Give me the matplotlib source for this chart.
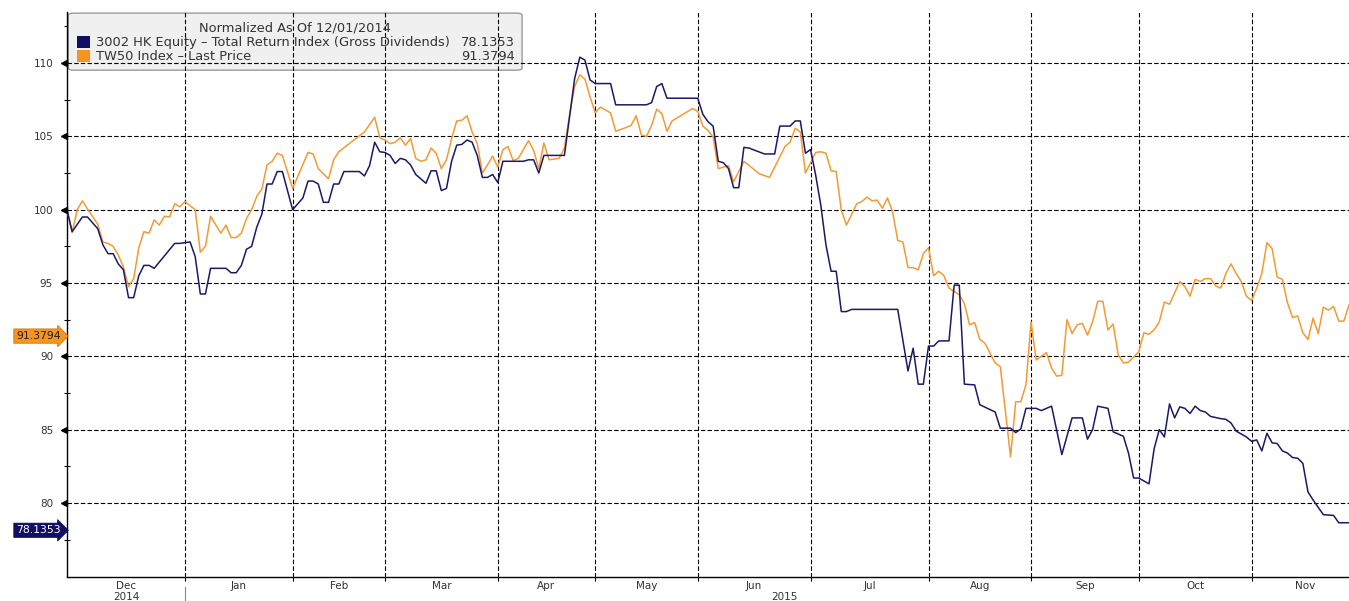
import matplotlib
matplotlib.use("Agg")
import matplotlib.pyplot as plt
from matplotlib.patches import FancyBboxPatch, Rectangle
from matplotlib.transforms import blended_transform_factory

# ---- data: trading-day index (0 = 01 Dec 2014) and value normalised to 100 ----
hk_days = [0, 1, 3, 4, 5, 6, 7, 8, 9, 10, 11, 12, 13, 14, 15, 16, 17, 21, 22, 24,
           25, 26, 27, 28, 31, 32, 33, 34, 35, 36, 37, 38, 39, 40, 41, 42, 44, 46, 47, 48,
           49, 50, 51, 52, 53, 54, 57, 58, 59, 60, 61, 62, 63, 64, 65, 66, 67, 68, 70, 71,
           72, 73, 74, 75, 76, 77, 78, 79, 80, 81, 82, 83, 84, 85, 89, 90, 91, 92, 93, 97,
           98, 99, 100, 101, 102, 103, 106, 107, 113, 114, 115, 116, 117, 123, 124, 125, 126, 127, 128, 129,
           130, 131, 132, 133, 136, 138, 139, 141, 142, 143, 144, 145, 146, 147, 148, 149, 150, 151, 152, 153,
           162, 163, 164, 165, 166, 167, 168, 169, 170, 172, 173, 174, 175, 177, 178, 181, 182, 184, 185, 186,
           187, 189, 190, 192, 194, 196, 198, 199, 200, 201, 203, 204, 206, 207, 208, 209, 211, 212, 213, 214,
           215, 216, 217, 218, 219, 220, 221, 222, 223, 225, 226, 227, 228, 230, 231, 232, 233, 234, 235, 236,
           237, 238, 239, 240, 241, 242, 243, 245, 247, 248, 250]
hk_values = [100.0, 98.5, 99.5, 99.5, 99.1, 98.7, 97.6, 97.0, 97.0, 96.3, 95.9, 94.0, 94.0, 95.5, 96.2, 96.2, 96.0, 97.7, 97.7, 97.8,
             96.8, 94.25, 94.25, 96.0, 96.0, 95.7, 95.7, 96.2, 97.3, 97.5, 98.8, 99.7, 101.75, 101.75, 102.6, 102.6, 100.0, 100.8, 101.95, 101.95,
             101.75, 100.5, 100.5, 101.75, 101.75, 102.6, 102.6, 102.3, 103.0, 104.6, 103.95, 103.9, 103.7, 103.15, 103.5, 103.4, 103.05, 102.4, 101.8, 102.65,
             102.65, 101.3, 101.45, 103.3, 104.4, 104.45, 104.75, 104.6, 103.7, 102.2, 102.2, 102.4, 101.85, 103.3, 103.3, 103.4, 103.4, 102.5, 103.7, 103.7,
             106.35, 108.95, 110.4, 110.2, 108.85, 108.6, 108.6, 107.15, 107.15, 107.3, 108.4, 108.6, 107.6, 107.6, 106.5, 106.0, 105.7, 103.3, 103.2, 102.8,
             101.5, 101.5, 104.25, 104.2, 103.8, 103.8, 105.7, 105.7, 106.05, 106.05, 103.85, 104.1, 102.35, 100.3, 97.6, 95.8, 95.8, 93.05, 93.05, 93.2,
             93.2, 91.1, 89.0, 90.55, 88.1, 88.1, 90.7, 90.7, 91.05, 91.05, 94.85, 94.85, 88.1, 88.05, 86.7, 86.2, 85.1, 85.1, 84.8, 85.05,
             86.45, 86.45, 86.3, 86.6, 83.3, 85.8, 85.8, 84.35, 85.0, 86.6, 86.45, 84.85, 84.55, 83.4, 81.7, 81.7, 81.3, 83.7, 85.0, 84.5,
             86.75, 85.8, 86.55, 86.45, 86.1, 86.6, 86.3, 86.2, 85.9, 85.75, 85.7, 85.45, 84.9, 84.5, 84.2, 84.3, 83.55, 84.75, 84.1, 84.05,
             83.55, 83.4, 83.1, 83.05, 82.7, 80.75, 80.2, 79.2, 79.15, 78.65, 78.65]

tw_days = [0, 1, 2, 3, 4, 6, 7, 8, 9, 10, 11, 12, 13, 14, 15, 16, 17, 18, 19, 20,
           21, 22, 23, 25, 26, 27, 28, 30, 31, 32, 33, 34, 35, 36, 37, 38, 39, 40, 41, 42,
           44, 47, 48, 49, 51, 52, 53, 58, 60, 61, 62, 63, 64, 65, 66, 67, 68, 69, 70, 71,
           72, 73, 74, 75, 76, 77, 78, 79, 80, 81, 82, 83, 84, 85, 86, 87, 88, 90, 91, 92,
           93, 94, 96, 97, 98, 99, 100, 101, 102, 103, 104, 106, 107, 109, 110, 111, 112, 113, 114, 115,
           116, 117, 118, 122, 123, 124, 125, 126, 127, 129, 130, 132, 135, 137, 140, 141, 142, 143, 144, 146,
           147, 148, 149, 150, 151, 152, 154, 155, 156, 157, 158, 159, 160, 161, 162, 163, 164, 165, 166, 167,
           168, 169, 170, 171, 172, 174, 175, 176, 177, 178, 179, 181, 182, 184, 185, 186, 187, 188, 189, 191,
           192, 193, 194, 195, 196, 197, 198, 199, 200, 201, 202, 203, 204, 205, 206, 207, 209, 210, 211, 212,
           213, 214, 215, 217, 218, 219, 220, 221, 222, 223, 224, 225, 226, 227, 228, 229, 230, 231, 232, 233,
           234, 235, 236, 237, 238, 239, 240, 241, 242, 243, 244, 245, 246, 247, 248, 249, 250]
tw_values = [100.0, 98.45, 100.0, 100.6, 100.05, 99.0, 97.8, 97.7, 97.5, 96.9, 96.1, 94.75, 95.3, 97.4, 98.5, 98.4, 99.3, 98.95, 99.55, 99.5,
             100.4, 100.2, 100.55, 100.0, 97.1, 97.5, 99.55, 98.4, 98.95, 98.1, 98.1, 98.4, 99.4, 100.0, 100.9, 101.4, 103.05, 103.3, 103.85, 103.7,
             101.45, 103.9, 103.8, 102.8, 102.1, 103.4, 103.95, 105.3, 106.3, 104.9, 104.75, 104.5, 104.6, 104.9, 104.4, 104.85, 103.5, 103.3, 103.4, 104.2,
             103.85, 102.8, 103.4, 104.85, 106.05, 106.1, 106.4, 105.3, 104.5, 102.5, 103.05, 103.65, 102.9, 104.1, 104.3, 103.35, 103.5, 104.7, 104.05, 102.8,
             104.55, 103.4, 103.5, 104.2, 106.45, 108.4, 109.2, 108.9, 107.7, 106.6, 107.0, 106.6, 105.35, 105.6, 105.75, 106.4, 105.1, 105.0, 105.75, 106.85,
             106.55, 105.35, 106.05, 106.9, 106.7, 105.7, 105.4, 104.95, 102.8, 103.0, 101.9, 103.3, 102.45, 102.2, 104.3, 104.6, 105.55, 105.3, 102.5, 103.9,
             103.95, 103.85, 102.65, 102.6, 99.95, 98.95, 100.4, 100.55, 100.85, 100.6, 100.65, 100.1, 100.8, 99.85, 97.9, 97.8, 96.05, 96.05, 95.9, 97.0,
             97.4, 95.5, 95.8, 95.5, 94.65, 94.2, 93.6, 92.15, 92.3, 91.15, 90.9, 89.55, 89.3, 83.15, 86.9, 86.9, 88.05, 92.35, 89.75, 90.25,
             89.2, 88.65, 88.7, 92.5, 91.55, 92.15, 92.25, 91.45, 92.35, 93.75, 93.75, 91.8, 92.2, 90.1, 89.55, 89.6, 90.3, 91.6, 91.5, 91.8,
             92.35, 93.7, 93.55, 95.1, 94.75, 94.1, 95.25, 95.1, 95.3, 95.3, 94.8, 94.65, 95.65, 96.3, 95.65, 95.1, 94.1, 93.8, 94.65, 95.65,
             97.75, 97.35, 95.4, 95.25, 93.65, 92.65, 92.75, 91.6, 91.15, 92.6, 91.55, 93.35, 93.15, 93.4, 92.4, 92.4, 93.5]

month_names = ["Dec", "Jan", "Feb", "Mar", "Apr", "May", "Jun", "Jul", "Aug", "Sep", "Oct", "Nov"]
month_start = [0, 23, 44, 62, 84, 103, 123, 145, 168, 188, 209, 231]
last_day = 250
year_names = ["2014", "2015"]
year_pos = [11.5, 140]

y_major = [80, 85, 90, 95, 100, 105, 110]
y_minor = [77.5, 82.5, 87.5, 92.5, 97.5, 102.5, 107.5, 112.5]

legend_title = "Normalized As Of 12/01/2014"
hk_name = "3002 HK Equity \u2013 Total Return Index (Gross Dividends)"
tw_name = "TW50 Index \u2013 Last Price"
hk_last = 78.1353
tw_last = 91.3794

NAVY = "#1c1868"
NAVY_BOX = "#120e63"
ORANGE = "#f39a33"
ORANGE_BOX = "#f7941d"
TXT = "#333333"

fig = plt.figure(figsize=(13.49, 6.01), dpi=100)
ax = fig.add_axes([67 / 1349, 24 / 601, 1282 / 1349, 565 / 601])
ax.set_xlim(0, last_day)
ax.set_ylim(74.95, 113.48)

# grid
for v in y_major:
    ax.axhline(v, color="black", lw=0.8, ls=(0, (4, 2)), zorder=3)
for d in month_start[1:]:
    ax.axvline(d, color="black", lw=0.8, ls=(0, (4, 2)), zorder=3)

# series
ax.plot(tw_days, tw_values, color=ORANGE, lw=1.1, zorder=5)
ax.plot(hk_days, hk_values, color=NAVY, lw=1.1, zorder=6)

# spines
for s in ["top", "right"]:
    ax.spines[s].set_visible(False)
ax.spines["left"].set_linewidth(1.0)
ax.spines["bottom"].set_linewidth(1.0)

# y axis
ax.set_yticks(y_major)
ax.set_yticklabels([str(v) for v in y_major], fontsize=7.5, color=TXT)
ax.tick_params(axis="y", which="major", length=0, pad=10)
ax.set_yticks(y_minor, minor=True)
ax.tick_params(axis="y", which="minor", direction="inout", length=5, width=0.8)
ytrans = blended_transform_factory(ax.transAxes, ax.transData)
ax.plot([-0.0025] * len(y_major), y_major, ls="", marker="<", ms=4.5, color="black",
        transform=ytrans, clip_on=False, zorder=7)

# x axis
mids = [(a + b) / 2 for a, b in zip(month_start, month_start[1:] + [last_day + 2])]
ax.set_xticks(mids)
ax.set_xticklabels(month_names, fontsize=7.5, color=TXT)
ax.tick_params(axis="x", which="major", length=0, pad=3)
ax.set_xticks(month_start[1:], minor=True)
ax.tick_params(axis="x", which="minor", direction="out", length=3, width=0.8)
xtrans = blended_transform_factory(ax.transData, ax.transAxes)
for name, pos in zip(year_names, year_pos):
    ax.text(pos, -0.036, name, fontsize=7.5, color=TXT, ha="center", va="center",
            transform=xtrans, clip_on=False)
ax.plot([month_start[1], month_start[1]], [-0.018, -0.045], color="#888888", lw=0.8,
        transform=xtrans, clip_on=False)

# last value tags at the left axis
ax.text(-0.005, tw_last, f"{tw_last:.4f}", transform=ytrans, ha="right", va="center",
        fontsize=7.8, color="#222222", zorder=8,
        bbox=dict(boxstyle="rarrow,pad=0.2", fc=ORANGE_BOX, ec="#c07010", lw=0.5))
ax.text(-0.005, hk_last, f"{hk_last:.4f}", transform=ytrans, ha="right", va="center",
        fontsize=7.8, color="white", zorder=8,
        bbox=dict(boxstyle="rarrow,pad=0.2", fc=NAVY_BOX, ec="#0a0840", lw=0.5))

# legend box
box = FancyBboxPatch((0.001, 0.897), 0.354, 0.101, transform=ax.transAxes,
                     boxstyle="round,pad=0,rounding_size=0.004", fc="#f0f0f0",
                     ec="#9a9a9a", lw=1.0, zorder=2, clip_on=False)
ax.add_patch(box)
ax.text(0.178, 0.9717, legend_title, transform=ax.transAxes, ha="center", va="center",
        fontsize=9.4, color=TXT, zorder=4)
rows = [(hk_name, hk_last, NAVY_BOX, 0.9469), (tw_name, tw_last, ORANGE_BOX, 0.9221)]
for name, last, col, yy in rows:
    ax.add_patch(Rectangle((0.0078, yy - 0.0106), 0.0101, 0.0212, transform=ax.transAxes,
                           fc=col, ec="none", zorder=4))
    ax.text(0.0226, yy, name, transform=ax.transAxes, ha="left", va="center",
            fontsize=9.4, color=TXT, zorder=4)
    ax.text(0.3495, yy, f"{last:.4f}", transform=ax.transAxes, ha="right", va="center",
            fontsize=9.4, color=TXT, zorder=4)

fig.savefig("out.png", dpi=100)
